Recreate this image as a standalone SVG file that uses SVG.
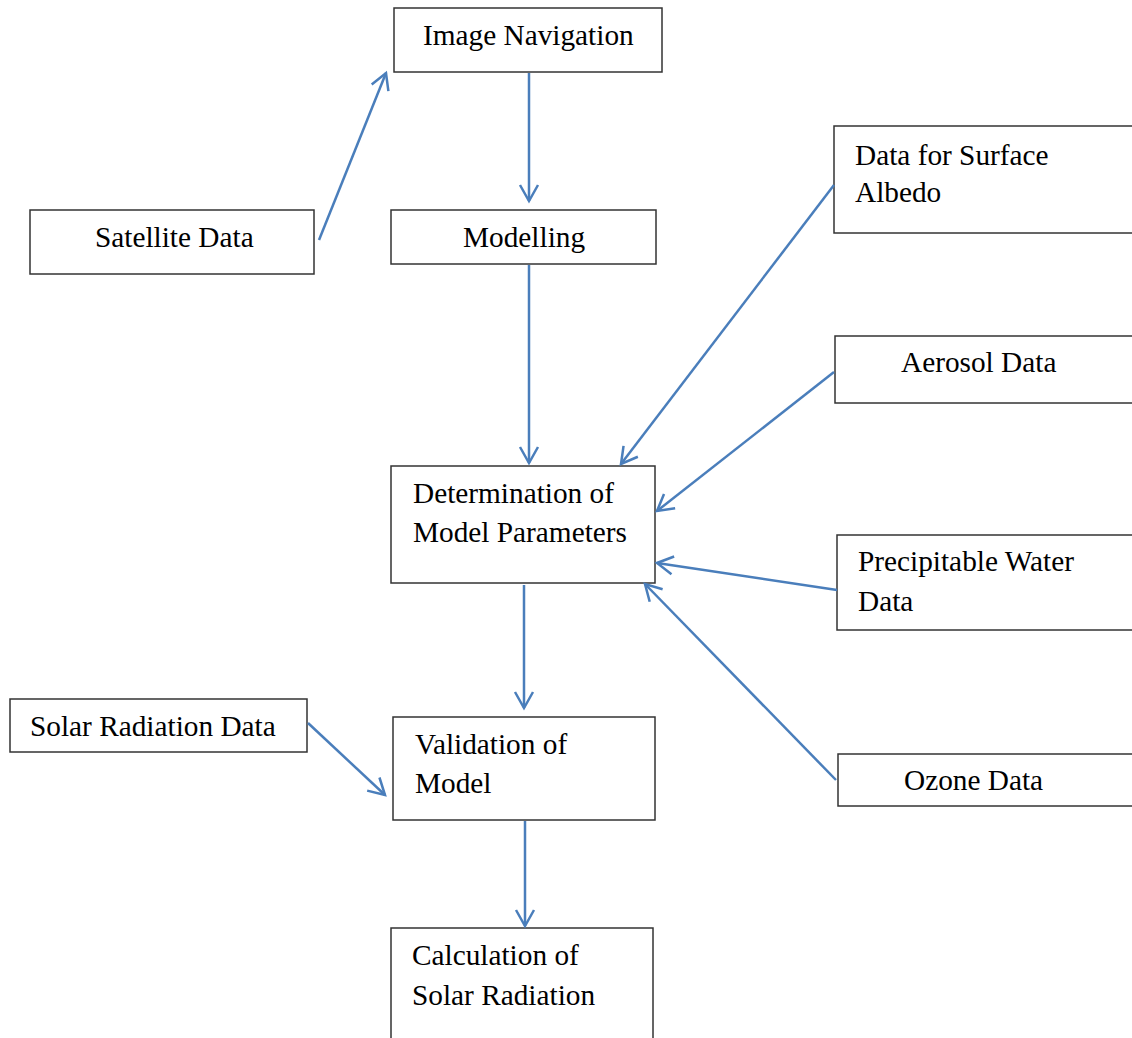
<svg xmlns="http://www.w3.org/2000/svg" width="1132" height="1038" viewBox="0 0 1132 1038">
<style>
.box{fill:#fff;stroke:#333;stroke-width:1.5}
.t{font-family:"Liberation Serif","Times New Roman",serif;font-size:29.3px;fill:#000}
.c{stroke:#4a7ebb;stroke-width:2.5;fill:none;marker-end:url(#ah)}
</style>
<defs>
<marker id="ah" markerUnits="userSpaceOnUse" markerWidth="22" markerHeight="22" viewBox="0 0 22 22" refX="17" refY="11" orient="auto">
<path d="M1,2 L17,11 L1,20" fill="none" stroke="#4a7ebb" stroke-width="2.5"/>
</marker>
</defs>
<rect width="1132" height="1038" fill="#fff"/>
<g id="n-imagenav"><rect class="box" x="394" y="8" width="268" height="64"/><text class="t" x="423" y="45">Image Navigation</text></g>
<g id="n-satellite"><rect class="box" x="30" y="210" width="284" height="64"/><text class="t" x="95" y="247">Satellite Data</text></g>
<g id="n-modelling"><rect class="box" x="391" y="210" width="265" height="54"/><text class="t" x="463" y="247">Modelling</text></g>
<g id="n-albedo"><rect class="box" x="834" y="126" width="306" height="107"/><text class="t" x="855" y="165">Data for Surface</text><text class="t" x="855" y="202">Albedo</text></g>
<g id="n-aerosol"><rect class="box" x="835" y="336" width="305" height="67"/><text class="t" x="901" y="372">Aerosol Data</text></g>
<g id="n-determination"><rect class="box" x="391" y="466" width="264" height="117"/><text class="t" x="413" y="503">Determination of</text><text class="t" x="413" y="542">Model Parameters</text></g>
<g id="n-precip"><rect class="box" x="837" y="535" width="303" height="95"/><text class="t" x="858" y="571">Precipitable Water</text><text class="t" x="858" y="611">Data</text></g>
<g id="n-solardata"><rect class="box" x="10" y="699" width="297" height="53"/><text class="t" x="30" y="736">Solar Radiation Data</text></g>
<g id="n-validation"><rect class="box" x="393" y="717" width="262" height="103"/><text class="t" x="415" y="754">Validation of</text><text class="t" x="415" y="793">Model</text></g>
<g id="n-ozone"><rect class="box" x="838" y="754" width="302" height="52"/><text class="t" x="904" y="790">Ozone Data</text></g>
<g id="n-calculation"><rect class="box" x="391" y="928" width="262" height="120"/><text class="t" x="412" y="965">Calculation of</text><text class="t" x="412" y="1005">Solar Radiation</text></g>
<g id="connectors">
<line class="c" x1="319" y1="240" x2="386" y2="73"/>
<line class="c" x1="529" y1="73" x2="529" y2="201"/>
<line class="c" x1="529" y1="265" x2="529" y2="463"/>
<line class="c" x1="834" y1="185" x2="621" y2="464"/>
<line class="c" x1="834" y1="372" x2="657" y2="511"/>
<line class="c" x1="837" y1="590" x2="657" y2="563"/>
<line class="c" x1="836" y1="780" x2="645" y2="584"/>
<line class="c" x1="524" y1="585" x2="524" y2="708"/>
<line class="c" x1="308" y1="723" x2="385" y2="795"/>
<line class="c" x1="525" y1="821" x2="525" y2="926"/>
</g>
</svg>
